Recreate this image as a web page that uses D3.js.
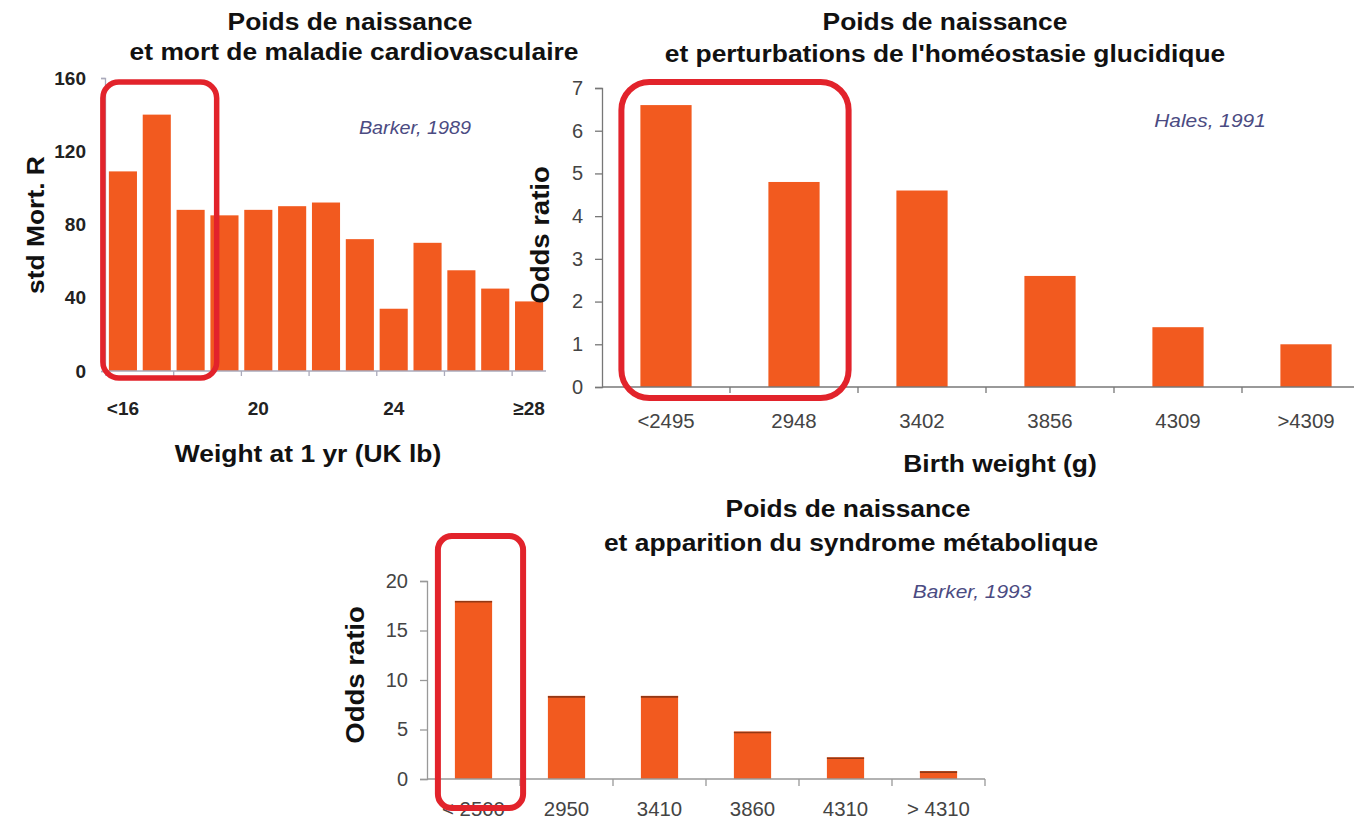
<!DOCTYPE html>
<html>
<head>
<meta charset="utf-8">
<script src="https://cdn.jsdelivr.net/npm/d3@7"></script>
<style>
  html, body { margin: 0; padding: 0; background: #fff; }
  svg { display: block; }
  text { font-family: "Liberation Sans", Arial, sans-serif; }
</style>
</head>
<body>
<svg id="chart" width="1354" height="822"></svg>
<script>
// ---------- DATA ----------
const c1Categories = ["<16","17","18","19","20","21","22","23","24","25","26","27","≥28"];
const c1Values = [109, 140, 88, 85, 88, 90, 92, 72, 34, 70, 55, 45, 38];
const c1TickLabels = ["<16","20","24","≥28"];
const c1YTicks = [0, 40, 80, 120, 160];

const c2Categories = ["<2495","2948","3402","3856","4309",">4309"];
const c2Values = [6.6, 4.8, 4.6, 2.6, 1.4, 1.0];
const c2YTicks = [0, 1, 2, 3, 4, 5, 6, 7];

const c3Categories = ["< 2500","2950","3410","3860","4310","> 4310"];
const c3Values = [18, 8.4, 8.4, 4.8, 2.2, 0.8];
const c3YTicks = [0, 5, 10, 15, 20];

// ---------- STYLE ----------
const BAR = "#F25A1F";
const BOX = "#E2232B";
const AUTHOR = "#4b4b82";
const SX = 1.1;

const svg = d3.select("#chart");

function txt(g, x, y, s, o) {
  o = o || {};
  const sx = o.sx == null ? SX : o.sx;
  const rot = o.rotate ? " rotate(-90)" : "";
  return g.append("text")
    .attr("transform", `translate(${x},${y})${rot} scale(${sx},1)`)
    .attr("text-anchor", o.anchor || "middle")
    .attr("font-size", o.size || 24)
    .attr("font-weight", o.weight || "bold")
    .attr("font-style", o.style || "normal")
    .attr("fill", o.fill || "#111")
    .text(s);
}

function styleAxis(ax, color) {
  ax.selectAll(".domain").attr("stroke", color).attr("stroke-width", 1.3);
  ax.selectAll(".tick line").attr("stroke", color).attr("stroke-width", 1.3);
}

// =============== CHART 1 ===============
{
  const g = svg.append("g");
  const x = d3.scaleBand().domain(c1Categories).range([106, 546]).paddingInner(0.17).paddingOuter(0.085);
  const y = d3.scaleLinear().domain([0, 160]).range([371, 78]);
  const step = x.step();

  g.selectAll("rect.bar").data(c1Values).join("rect")
    .attr("x", (d, i) => x(c1Categories[i]))
    .attr("y", d => y(d))
    .attr("width", x.bandwidth())
    .attr("height", d => y(0) - y(d))
    .attr("fill", BAR);

  const ya = g.append("g").attr("transform", "translate(105,0)")
    .call(d3.axisLeft(y).tickValues(c1YTicks).tickSize(4).tickPadding(15).tickFormat(d3.format("d")));
  styleAxis(ya, "#aab");
  ya.selectAll("text").attr("font-size", 19).attr("font-weight", "bold").attr("fill", "#222")
    .attr("font-family", "Liberation Sans, Arial, sans-serif");

  // x axis line & ticks at every second band boundary
  g.append("line").attr("x1", 105).attr("x2", 546).attr("y1", y(0)).attr("y2", y(0))
    .attr("stroke", "#aab").attr("stroke-width", 1.3);
  c1Categories.forEach((c, i) => {
    if (i % 2 === 0) {
      const bx = x(c) - step * x.paddingInner() / 2;
      g.append("line").attr("x1", bx).attr("x2", bx).attr("y1", y(0)).attr("y2", y(0) + 5)
        .attr("stroke", "#aab").attr("stroke-width", 1.3);
    }
  });
  c1TickLabels.forEach(lbl => {
    txt(g, x(lbl) + x.bandwidth() / 2, 415, lbl, { size: 19, fill: "#222", sx: 1.0 });
  });

  txt(g, 350, 30, "Poids de naissance");
  txt(g, 354, 60, "et mort de maladie cardiovasculaire");
  txt(g, 44, 225, "std Mort. R", { rotate: true });
  txt(g, 308, 462, "Weight at 1 yr (UK lb)");
  txt(g, 415, 134, "Barker, 1989", { size: 18, weight: "normal", style: "italic", fill: AUTHOR });

  const bx0 = x(c1Categories[0]) - 6, bx1 = x(c1Categories[2]) + x.bandwidth() + 12;
  g.append("rect").attr("x", bx0).attr("y", y(160) + 4)
    .attr("width", bx1 - bx0).attr("height", (y(0) + 7) - (y(160) + 4))
    .attr("rx", 16).attr("ry", 16).attr("fill", "none").attr("stroke", BOX).attr("stroke-width", 5.5);
}

// =============== CHART 2 ===============
{
  const g = svg.append("g");
  const x = d3.scaleBand().domain(c2Categories).range([602, 1370]).paddingInner(0.6).paddingOuter(0.3);
  const y = d3.scaleLinear().domain([0, 7]).range([387, 88]);
  const step = x.step();

  g.selectAll("rect.bar").data(c2Values).join("rect")
    .attr("x", (d, i) => x(c2Categories[i]))
    .attr("y", d => y(d))
    .attr("width", x.bandwidth())
    .attr("height", d => y(0) - y(d))
    .attr("fill", BAR);

  const ya = g.append("g").attr("transform", "translate(602,0)")
    .call(d3.axisLeft(y).tickValues(c2YTicks).tickSize(7).tickPadding(12).tickFormat(d3.format("d")));
  styleAxis(ya, "#777");
  ya.selectAll("text").attr("font-size", 20).attr("fill", "#444")
    .attr("font-family", "Liberation Sans, Arial, sans-serif");

  g.append("line").attr("x1", 602).attr("x2", 1354).attr("y1", y(0)).attr("y2", y(0))
    .attr("stroke", "#777").attr("stroke-width", 1.3);
  c2Categories.forEach((c, i) => {
    const bx = x(c) - step * x.paddingInner() / 2;
    if (i > 0) g.append("line").attr("x1", bx).attr("x2", bx).attr("y1", y(0)).attr("y2", y(0) + 6)
      .attr("stroke", "#777").attr("stroke-width", 1.3);
    txt(g, x(c) + x.bandwidth() / 2, 428, c, { size: 20, weight: "normal", fill: "#444", sx: 1.02 });
  });

  txt(g, 945, 30, "Poids de naissance");
  txt(g, 945, 62, "et perturbations de l'homéostasie glucidique");
  txt(g, 549, 235, "Odds ratio", { rotate: true, size: 25 });
  txt(g, 1000, 472, "Birth weight (g)");
  txt(g, 1210, 127, "Hales, 1991", { size: 19, weight: "normal", style: "italic", fill: AUTHOR });

  const bx0 = x(c2Categories[0]) - 19, bx1 = x(c2Categories[1]) + x.bandwidth() + 29;
  g.append("rect").attr("x", bx0).attr("y", y(7) - 6)
    .attr("width", bx1 - bx0).attr("height", (y(0) + 11) - (y(7) - 6))
    .attr("rx", 28).attr("ry", 28).attr("fill", "none").attr("stroke", BOX).attr("stroke-width", 6);
}

// =============== CHART 3 ===============
{
  const g = svg.append("g");
  const x = d3.scaleBand().domain(c3Categories).range([427, 985]).paddingInner(0.6).paddingOuter(0.3);
  const y = d3.scaleLinear().domain([0, 20]).range([779, 581]);
  const step = x.step();

  g.selectAll("rect.bar").data(c3Values).join("rect")
    .attr("x", (d, i) => x(c3Categories[i]))
    .attr("y", d => y(d))
    .attr("width", x.bandwidth())
    .attr("height", d => y(0) - y(d))
    .attr("fill", BAR);
  g.selectAll("line.top").data(c3Values).join("line")
    .attr("x1", (d, i) => x(c3Categories[i]))
    .attr("x2", (d, i) => x(c3Categories[i]) + x.bandwidth())
    .attr("y1", d => y(d) + 1).attr("y2", d => y(d) + 1)
    .attr("stroke", "#6a2a12").attr("stroke-width", 1.6).attr("opacity", 0.7);

  const ya = g.append("g").attr("transform", "translate(427,0)")
    .call(d3.axisLeft(y).tickValues(c3YTicks).tickSize(7).tickPadding(12).tickFormat(d3.format("d")));
  styleAxis(ya, "#999");
  ya.selectAll("text").attr("font-size", 20).attr("fill", "#444")
    .attr("font-family", "Liberation Sans, Arial, sans-serif");

  g.append("line").attr("x1", 427).attr("x2", 985).attr("y1", y(0)).attr("y2", y(0))
    .attr("stroke", "#999").attr("stroke-width", 1.3);
  c3Categories.forEach((c, i) => {
    const bx = x(c) - step * x.paddingInner() / 2 + step;
    g.append("line").attr("x1", bx).attr("x2", bx).attr("y1", y(0)).attr("y2", y(0) + 7)
      .attr("stroke", "#999").attr("stroke-width", 1.3);
    txt(g, x(c) + x.bandwidth() / 2, 816, c, { size: 20, weight: "normal", fill: "#444", sx: 1.02 });
  });

  txt(g, 848, 517, "Poids de naissance");
  txt(g, 851, 551, "et apparition du syndrome métabolique");
  txt(g, 364, 675, "Odds ratio", { rotate: true, size: 25 });
  txt(g, 972, 598, "Barker, 1993", { size: 19, weight: "normal", style: "italic", fill: AUTHOR });

  const bx0 = x(c3Categories[0]) - 17, bx1 = x(c3Categories[0]) + x.bandwidth() + 31;
  g.append("rect").attr("x", bx0).attr("y", y(20) - 45)
    .attr("width", bx1 - bx0).attr("height", (y(0) + 29) - (y(20) - 45))
    .attr("rx", 14).attr("ry", 14).attr("fill", "none").attr("stroke", BOX).attr("stroke-width", 6);
}
</script>
</body>
</html>
